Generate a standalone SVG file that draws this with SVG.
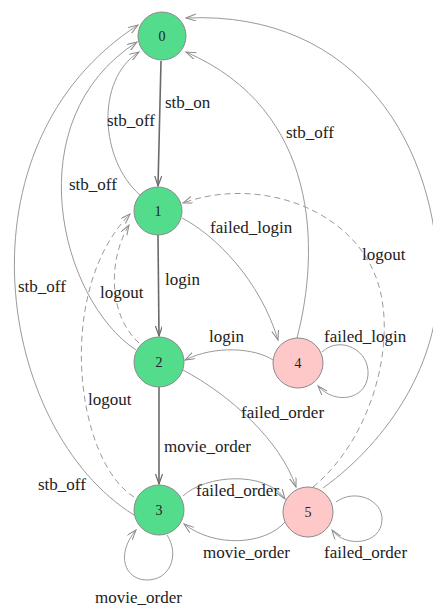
<svg xmlns="http://www.w3.org/2000/svg" width="433" height="607" viewBox="0 0 433 607">
  <style>
    .node-g circle { stroke: #8a8a8a; stroke-width: 1; }
    .ok { fill: #52dc8c; }
    .bad { fill: #ffc8c8; }
    .nlabel { font-family: "Liberation Serif", serif; font-size: 14px; fill: #222; text-anchor: middle; dominant-baseline: central; }
    .edge { fill: none; stroke: #9a9a9a; stroke-width: 1; marker-end: url(#arrow); }
    .main { stroke: #6a6a6a; stroke-width: 1.6; marker-end: url(#arrowDark); }
    .dash { stroke-dasharray: 6 4; }
    .elabel { font-family: "Liberation Serif", serif; font-size: 17px; fill: #222; }
  </style>
  <defs>
    <marker id="arrow" markerUnits="userSpaceOnUse" markerWidth="12" markerHeight="10" refX="10" refY="3.5" orient="auto">
      <path d="M0,0 L10,3.5 L0,7" fill="none" stroke="#8a8a8a" stroke-width="1"/>
    </marker>
    <marker id="arrowDark" markerUnits="userSpaceOnUse" markerWidth="12" markerHeight="10" refX="10" refY="3.5" orient="auto">
      <path d="M0,0 L10,3.5 L0,7" fill="none" stroke="#6a6a6a" stroke-width="1.2"/>
    </marker>
  </defs>

  <!-- connectors with their labels -->
  <g id="edges">
    <!-- 0 -> 1 -->
    <path class="edge main" d="M161,61 L158,186"/>
    <text class="elabel" x="165" y="108">stb_on</text>

    <!-- 1 -> 0 -->
    <path class="edge" d="M140,195 C100,160 95,80 139,52"/>
    <text class="elabel" x="107" y="126">stb_off</text>

    <!-- 2 -> 0 -->
    <path class="edge" d="M136,350 C60,300 15,120 137,42"/>
    <text class="elabel" x="69" y="190">stb_off</text>

    <!-- 3 -> 0 -->
    <path class="edge" d="M134,515 C-3,430 -48,145 138,25"/>
    <text class="elabel" x="18" y="292">stb_off</text>

    <!-- 4 -> 0 -->
    <path class="edge" d="M297,338 C320,250 320,110 186,52"/>
    <text class="elabel" x="286" y="138">stb_off</text>

    <!-- 5 -> 0 -->
    <path class="edge" d="M323,488 C390,440 440,360 438,280 C438,150 360,10 186,18"/>
    <text class="elabel" x="38" y="490">stb_off</text>

    <!-- 1 -> 2 -->
    <path class="edge main" d="M158,235 L159,336"/>
    <text class="elabel" x="165" y="285">login</text>

    <!-- 2 -> 1 -->
    <path class="edge dash" d="M139,343 C108,315 108,260 129,225"/>
    <text class="elabel" x="100" y="298">logout</text>

    <!-- 3 -> 1 -->
    <path class="edge dash" d="M134,497 C75,460 55,290 130,214"/>
    <text class="elabel" x="88" y="405">logout</text>

    <!-- 5 -> 1 -->
    <path class="edge dash" d="M313,487 C370,440 395,350 380,290 C360,210 260,175 183,203"/>
    <text class="elabel" x="362" y="260">logout</text>

    <!-- 1 -> 4 -->
    <path class="edge" d="M182,218 C215,235 260,280 278,340"/>
    <text class="elabel" x="210" y="233">failed_login</text>

    <!-- 4 -> 2 -->
    <path class="edge" d="M273,360 C255,348 215,345 185,360"/>
    <text class="elabel" x="209" y="342">login</text>

    <!-- 4 -> 4 -->
    <path class="edge" d="M322,352 C340,335 370,350 368,375 C366,400 335,405 318,386"/>
    <text class="elabel" x="324" y="342">failed_login</text>

    <!-- 2 -> 3 -->
    <path class="edge main" d="M159,387 L159,484"/>
    <text class="elabel" x="164" y="452">movie_order</text>

    <!-- 2 -> 5 -->
    <path class="edge" d="M183,370 C230,395 280,440 296,487"/>
    <text class="elabel" x="241" y="418">failed_order</text>

    <!-- 3 -> 5 -->
    <path class="edge" d="M183,496 C205,475 265,470 285,499"/>
    <text class="elabel" x="196" y="496">failed_order</text>

    <!-- 5 -> 3 -->
    <path class="edge" d="M285,522 C265,545 215,548 184,524"/>
    <text class="elabel" x="203" y="558">movie_order</text>

    <!-- 5 -> 5 -->
    <path class="edge" d="M336,502 C355,488 383,500 382,520 C381,545 345,548 332,530"/>
    <text class="elabel" x="324" y="558">failed_order</text>

    <!-- 3 -> 3 -->
    <path class="edge" d="M167,535 C180,555 170,580 147,580 C125,580 115,555 136,530"/>
    <text class="elabel" x="95" y="603">movie_order</text>
  </g>

  <!-- states -->
  <g id="n0" class="node-g"><circle class="ok" cx="162" cy="36" r="24"/><text class="nlabel" x="162" y="36">0</text></g>
  <g id="n1" class="node-g"><circle class="ok" cx="158" cy="211" r="24"/><text class="nlabel" x="158" y="211">1</text></g>
  <g id="n2" class="node-g"><circle class="ok" cx="159" cy="362" r="25"/><text class="nlabel" x="159" y="362">2</text></g>
  <g id="n3" class="node-g"><circle class="ok" cx="159" cy="510" r="25"/><text class="nlabel" x="159" y="510">3</text></g>
  <g id="n4" class="node-g"><circle class="bad" cx="298" cy="363" r="25"/><text class="nlabel" x="298" y="363">4</text></g>
  <g id="n5" class="node-g"><circle class="bad" cx="308" cy="512" r="25"/><text class="nlabel" x="308" y="512">5</text></g>
</svg>
